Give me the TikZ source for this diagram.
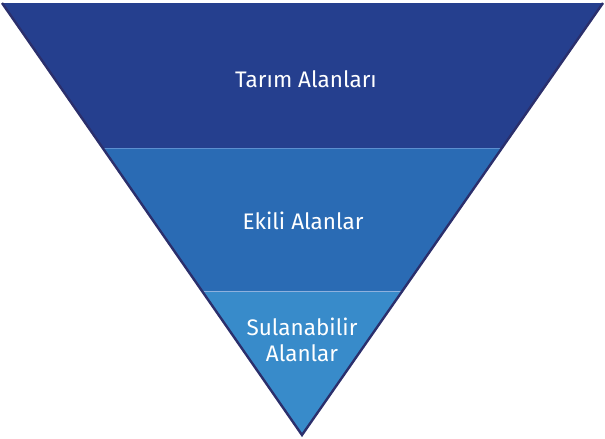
\documentclass[tikz,border=0pt]{standalone}
\usepackage{fontspec}
\setmainfont{Fira Sans}
\usetikzlibrary{calc}
\definecolor{bandA}{HTML}{253F8E}
\definecolor{bandB}{HTML}{2A6BB4}
\definecolor{bandC}{HTML}{388BCA}
\definecolor{edgeC}{HTML}{2B2F6C}
\definecolor{sepC}{HTML}{5C8FD0}
\begin{document}
\begin{tikzpicture}[x=1pt,y=-1pt,
  lbl/.style={text=white,font=\fontsize{22.5}{26}\selectfont,align=center,inner sep=0pt}]
\useasboundingbox (0,0) rectangle (605,439);
\coordinate (TL) at (2,3);
\coordinate (TR) at (603,3);
\coordinate (AP) at (302,435);
% band boundaries
\coordinate (L1) at ($(TL)!{(148-3)/432}!(AP)$);
\coordinate (R1) at ($(TR)!{(148-3)/432}!(AP)$);
\coordinate (L2) at ($(TL)!{(291-3)/432}!(AP)$);
\coordinate (R2) at ($(TR)!{(291-3)/432}!(AP)$);
\fill[bandA] (TL) -- (TR) -- (R1) -- (L1) -- cycle;
\fill[bandB] (L1) -- (R1) -- (R2) -- (L2) -- cycle;
\fill[bandC] (L2) -- (R2) -- (AP) -- cycle;
\draw[sepC,line width=0.8] (L1) -- (R1);
\draw[sepC!70!white,line width=0.8] (L2) -- (R2);
\draw[edgeC,line width=2.4,line join=miter] (TR) -- (AP) -- (TL);
\node[lbl] (t1) at (306,79) {Tarım Alanları};
\node[lbl] (t2) at (303,221) {Ekili Alanlar};
\node[lbl] (t3) at (302,340) {Sulanabilir\\Alanlar};
\end{tikzpicture}
\end{document}
